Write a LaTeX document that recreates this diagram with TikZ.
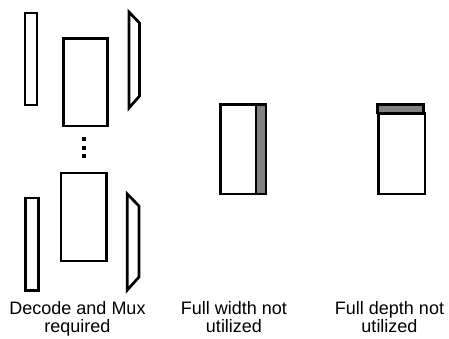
\documentclass[tikz,border=0pt]{standalone}
\usepackage{fontspec}
\setmainfont{Liberation Sans}
\begin{document}
\begin{tikzpicture}[x=1pt,y=-1pt,
  box/.style={draw=black,line width=2.7pt,fill=white},
  unused/.style={draw=black,line width=2.7pt,fill=black!50},
  caption/.style={font=\fontsize{18}{18}\selectfont,align=center,inner sep=0pt,anchor=base},
  dotmark/.style={fill=black,minimum size=4pt,inner sep=0pt}]
\useasboundingbox (0,0) rectangle (449,338);

% --- Decode and Mux: upper bank ---
\draw[box] (25,13) rectangle (37,105);
\draw[box] (63.5,38.5) rectangle (107.5,126);
\draw[box,line join=miter] (129,12) -- (139.5,23) -- (139.5,96) -- (129,108) -- cycle;

% vertical ellipsis between the banks
\node[dotmark] (d1) at (84,139) {};
\node[dotmark] (d2) at (84,148) {};
\node[dotmark] (d3) at (84,156) {};

% --- Decode and Mux: lower bank ---
\draw[box] (25.5,198) rectangle (38.5,290.5);
\draw[box] (61,173) rectangle (106.5,261);
\draw[box,line join=miter] (127.3,194) -- (139,206) -- (139,277) -- (127.3,290) -- cycle;

% --- Full width not utilized ---
\draw[box] (220.5,104.5) rectangle (256,194);
\draw[unused] (256,104.5) rectangle (266,194);

% --- Full depth not utilized ---
\draw[box] (378.5,113.5) rectangle (425,194);
\draw[unused] (377.5,104.5) rectangle (423.5,113);

% captions (anchored on the baseline of the last line)
\node[caption] (c1) at (77.5,332) {Decode and Mux\\required};
\node[caption] (c2) at (234,332) {Full width not\\utilized};
\node[caption] (c3) at (389.5,332) {Full depth not\\utilized};
\end{tikzpicture}
\end{document}
